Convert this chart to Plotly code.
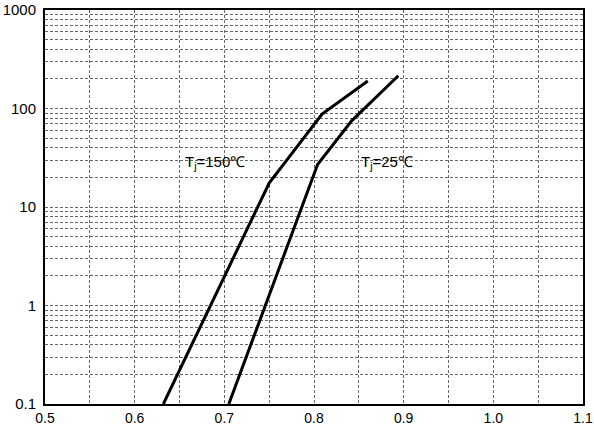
import plotly.graph_objects as go

# Data
vf_150 = [0.632, 0.750, 0.809, 0.860]
if_150 = [0.1, 17.5, 88, 190]
vf_25 = [0.705, 0.804, 0.842, 0.894]
if_25 = [0.1, 27, 75, 215]

x_ticks = [0.5, 0.6, 0.7, 0.8, 0.9, 1.0, 1.1]
x_tick_text = ["0.5", "0.6", "0.7", "0.8", "0.9", "1.0", "1.1"]
y_ticks = [0.1, 1, 10, 100, 1000]
y_tick_text = ["0.1", "1", "10", "100", "1000"]

grid_col = "#666666"
FONT = "Liberation Sans, Arial"

fig = go.Figure()
fig.add_trace(go.Scatter(x=vf_150, y=if_150, mode="lines",
                         line=dict(color="black", width=3), showlegend=False))
fig.add_trace(go.Scatter(x=vf_25, y=if_25, mode="lines",
                         line=dict(color="black", width=3), showlegend=False))

# annotation y positions are in log10 units on a log axis
fig.add_annotation(x=0.7253, y=1.45, text="T<sub>j</sub>=150℃", showarrow=False,
                   xanchor="right", font=dict(family=FONT, size=15, color="black"))
fig.add_annotation(x=0.850, y=1.45, text="T<sub>j</sub>=25℃", showarrow=False,
                   xanchor="left", font=dict(family=FONT, size=15, color="black"))

fig.update_layout(
    width=594, height=425,
    margin=dict(l=45, r=11, t=10, b=21),
    paper_bgcolor="white", plot_bgcolor="white",
    font=dict(family=FONT, size=15, color="black"),
    xaxis=dict(range=[0.5, 1.1], tickvals=x_ticks, ticktext=x_tick_text,
               tickfont=dict(size=14),
               showgrid=True, gridcolor=grid_col, griddash="3px,2px", gridwidth=1,
               minor=dict(dtick=0.05, showgrid=True, gridcolor=grid_col, griddash="3px,2px", gridwidth=1),
               showline=True, linecolor="black", linewidth=2, mirror=True,
               ticks="", zeroline=False, automargin=False, ticklabelstandoff=0),
    yaxis=dict(type="log", range=[-1, 3], tickvals=y_ticks, ticktext=y_tick_text,
               showgrid=True, gridcolor=grid_col, griddash="3px,2px", gridwidth=1,
               minor=dict(dtick="D1", showgrid=True, gridcolor=grid_col, griddash="3px,2px", gridwidth=1),
               showline=True, linecolor="black", linewidth=2, mirror=True,
               ticks="", zeroline=False, automargin=False, ticklabelstandoff=4),
)

fig.write_html("out.html", post_script="document.body.style.margin='0';",
               config={"displayModeBar": False})
